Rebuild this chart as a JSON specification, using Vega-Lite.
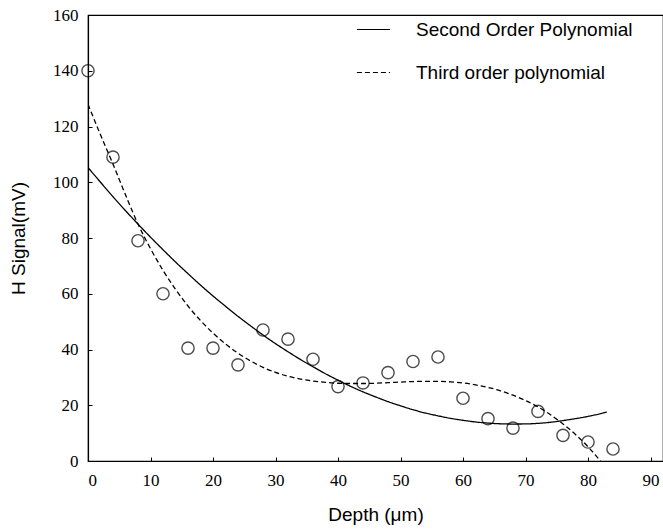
{
  "$schema": "https://vega.github.io/schema/vega-lite/v6.json",
  "width": 575,
  "height": 446,
  "autosize": {"type": "none"},
  "padding": {"left": 88, "top": 15, "right": 0, "bottom": 68},
  "background": "white",
  "config": {
    "view": {"stroke": "black", "strokeWidth": 1.2},
    "axis": {
      "grid": false,
      "domainColor": "black",
      "domainWidth": 1.2,
      "tickColor": "black",
      "labelFont": "Liberation Serif",
      "labelFontSize": 17,
      "labelColor": "black",
      "titleFont": "Liberation Sans",
      "titleFontSize": 19,
      "titleFontWeight": "normal",
      "titleColor": "black"
    }
  },
  "datasets": {
    "points": [
      {"x": 0, "y": 140}, {"x": 4, "y": 109}, {"x": 8, "y": 79}, {"x": 12, "y": 60},
      {"x": 16, "y": 40.5}, {"x": 20, "y": 40.5}, {"x": 24, "y": 34.5}, {"x": 28, "y": 47},
      {"x": 32, "y": 43.7}, {"x": 36, "y": 36.5}, {"x": 40, "y": 26.7}, {"x": 44, "y": 28},
      {"x": 48, "y": 31.7}, {"x": 52, "y": 35.7}, {"x": 56, "y": 37.3}, {"x": 60, "y": 22.5},
      {"x": 64, "y": 15.2}, {"x": 68, "y": 11.8}, {"x": 72, "y": 17.8}, {"x": 76, "y": 9.2},
      {"x": 80, "y": 6.8}, {"x": 84, "y": 4.3}
    ],
    "curves": [
      {"x": 0, "y": 105.3, "s": "Second Order Polynomial"},
      {"x": 2, "y": 100.0, "s": "Second Order Polynomial"},
      {"x": 4, "y": 94.8, "s": "Second Order Polynomial"},
      {"x": 6, "y": 89.8, "s": "Second Order Polynomial"},
      {"x": 8, "y": 85.0, "s": "Second Order Polynomial"},
      {"x": 10, "y": 80.3, "s": "Second Order Polynomial"},
      {"x": 12, "y": 75.8, "s": "Second Order Polynomial"},
      {"x": 14, "y": 71.4, "s": "Second Order Polynomial"},
      {"x": 16, "y": 67.2, "s": "Second Order Polynomial"},
      {"x": 18, "y": 63.1, "s": "Second Order Polynomial"},
      {"x": 20, "y": 59.2, "s": "Second Order Polynomial"},
      {"x": 22, "y": 55.5, "s": "Second Order Polynomial"},
      {"x": 24, "y": 51.9, "s": "Second Order Polynomial"},
      {"x": 26, "y": 48.5, "s": "Second Order Polynomial"},
      {"x": 28, "y": 45.2, "s": "Second Order Polynomial"},
      {"x": 30, "y": 42.1, "s": "Second Order Polynomial"},
      {"x": 32, "y": 39.2, "s": "Second Order Polynomial"},
      {"x": 34, "y": 36.4, "s": "Second Order Polynomial"},
      {"x": 36, "y": 33.8, "s": "Second Order Polynomial"},
      {"x": 38, "y": 31.3, "s": "Second Order Polynomial"},
      {"x": 40, "y": 29.0, "s": "Second Order Polynomial"},
      {"x": 42, "y": 26.8, "s": "Second Order Polynomial"},
      {"x": 44, "y": 24.8, "s": "Second Order Polynomial"},
      {"x": 46, "y": 23.0, "s": "Second Order Polynomial"},
      {"x": 48, "y": 21.3, "s": "Second Order Polynomial"},
      {"x": 50, "y": 19.8, "s": "Second Order Polynomial"},
      {"x": 52, "y": 18.4, "s": "Second Order Polynomial"},
      {"x": 54, "y": 17.2, "s": "Second Order Polynomial"},
      {"x": 56, "y": 16.2, "s": "Second Order Polynomial"},
      {"x": 58, "y": 15.3, "s": "Second Order Polynomial"},
      {"x": 60, "y": 14.6, "s": "Second Order Polynomial"},
      {"x": 62, "y": 14.0, "s": "Second Order Polynomial"},
      {"x": 64, "y": 13.6, "s": "Second Order Polynomial"},
      {"x": 66, "y": 13.35, "s": "Second Order Polynomial"},
      {"x": 68, "y": 13.26, "s": "Second Order Polynomial"},
      {"x": 70, "y": 13.3, "s": "Second Order Polynomial"},
      {"x": 72, "y": 13.5, "s": "Second Order Polynomial"},
      {"x": 74, "y": 13.9, "s": "Second Order Polynomial"},
      {"x": 76, "y": 14.5, "s": "Second Order Polynomial"},
      {"x": 78, "y": 15.2, "s": "Second Order Polynomial"},
      {"x": 80, "y": 16.0, "s": "Second Order Polynomial"},
      {"x": 82, "y": 17.0, "s": "Second Order Polynomial"},
      {"x": 83, "y": 17.6, "s": "Second Order Polynomial"},
      {"x": 0, "y": 128, "s": "Third order polynomial"},
      {"x": 2, "y": 117, "s": "Third order polynomial"},
      {"x": 4, "y": 106.5, "s": "Third order polynomial"},
      {"x": 6, "y": 95.5, "s": "Third order polynomial"},
      {"x": 8, "y": 85.0, "s": "Third order polynomial"},
      {"x": 10, "y": 76.2, "s": "Third order polynomial"},
      {"x": 12, "y": 68.4, "s": "Third order polynomial"},
      {"x": 14, "y": 61.6, "s": "Third order polynomial"},
      {"x": 16, "y": 55.6, "s": "Third order polynomial"},
      {"x": 18, "y": 50.4, "s": "Third order polynomial"},
      {"x": 20, "y": 45.9, "s": "Third order polynomial"},
      {"x": 22, "y": 42.0, "s": "Third order polynomial"},
      {"x": 24, "y": 38.7, "s": "Third order polynomial"},
      {"x": 26, "y": 35.9, "s": "Third order polynomial"},
      {"x": 28, "y": 33.6, "s": "Third order polynomial"},
      {"x": 30, "y": 31.8, "s": "Third order polynomial"},
      {"x": 32, "y": 30.4, "s": "Third order polynomial"},
      {"x": 34, "y": 29.4, "s": "Third order polynomial"},
      {"x": 36, "y": 28.7, "s": "Third order polynomial"},
      {"x": 38, "y": 28.2, "s": "Third order polynomial"},
      {"x": 40, "y": 27.9, "s": "Third order polynomial"},
      {"x": 42, "y": 27.8, "s": "Third order polynomial"},
      {"x": 44, "y": 27.8, "s": "Third order polynomial"},
      {"x": 46, "y": 27.9, "s": "Third order polynomial"},
      {"x": 48, "y": 28.1, "s": "Third order polynomial"},
      {"x": 50, "y": 28.3, "s": "Third order polynomial"},
      {"x": 52, "y": 28.5, "s": "Third order polynomial"},
      {"x": 54, "y": 28.6, "s": "Third order polynomial"},
      {"x": 56, "y": 28.6, "s": "Third order polynomial"},
      {"x": 58, "y": 28.4, "s": "Third order polynomial"},
      {"x": 60, "y": 28.0, "s": "Third order polynomial"},
      {"x": 62, "y": 27.3, "s": "Third order polynomial"},
      {"x": 64, "y": 26.4, "s": "Third order polynomial"},
      {"x": 66, "y": 25.2, "s": "Third order polynomial"},
      {"x": 68, "y": 23.6, "s": "Third order polynomial"},
      {"x": 70, "y": 21.7, "s": "Third order polynomial"},
      {"x": 72, "y": 19.4, "s": "Third order polynomial"},
      {"x": 74, "y": 16.6, "s": "Third order polynomial"},
      {"x": 76, "y": 13.3, "s": "Third order polynomial"},
      {"x": 78, "y": 9.5, "s": "Third order polynomial"},
      {"x": 80, "y": 5.1, "s": "Third order polynomial"},
      {"x": 82, "y": 0, "s": "Third order polynomial"}
    ]
  },
  "layer": [
    {
      "data": {"name": "curves"},
      "mark": {"type": "line", "color": "black", "strokeWidth": 1.3, "interpolate": "monotone", "clip": true},
      "encoding": {
        "x": {
          "field": "x", "type": "quantitative",
          "scale": {"domain": [0, 92], "nice": false, "zero": false},
          "axis": {"values": [0, 10, 20, 30, 40, 50, 60, 70, 80, 90], "tickSize": -4, "labelPadding": 15, "title": "Depth (\u03bcm)", "titlePadding": 17}
        },
        "y": {
          "field": "y", "type": "quantitative",
          "scale": {"domain": [0, 160], "nice": false},
          "axis": {"values": [0, 20, 40, 60, 80, 100, 120, 140, 160], "tickSize": -4, "labelPadding": 14, "title": "H Signal(mV)", "titlePadding": 24}
        },
        "strokeDash": {
          "field": "s", "type": "nominal",
          "scale": {"domain": ["Second Order Polynomial", "Third order polynomial"], "range": [[1, 0], [5, 3]]},
          "legend": {
            "title": null,
            "orient": "none",
            "legendX": 268,
            "legendY": -3,
            "symbolType": "stroke",
            "symbolSize": 1100,
            "symbolStrokeColor": "black",
            "symbolStrokeWidth": 1.2,
            "labelFont": "Liberation Sans",
            "labelFontSize": 19,
            "labelColor": "black",
            "labelOffset": 25,
            "rowPadding": 15,
            "labelLimit": 400
          }
        }
      }
    },
    {
      "data": {"name": "points"},
      "mark": {"type": "point", "shape": "circle", "filled": false, "color": "black", "size": 150, "strokeWidth": 1.4},
      "encoding": {
        "x": {"field": "x", "type": "quantitative"},
        "y": {"field": "y", "type": "quantitative"}
      }
    }
  ]
}
